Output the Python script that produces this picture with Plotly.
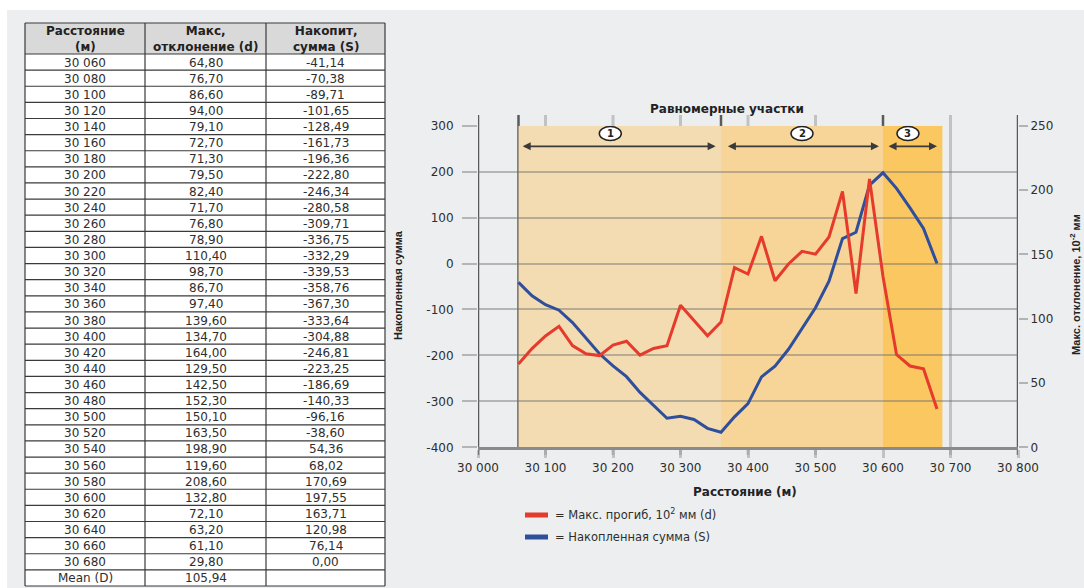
import plotly.graph_objects as go

# ---------------- data ----------------
distance = [30060, 30080, 30100, 30120, 30140, 30160, 30180, 30200, 30220, 30240,
            30260, 30280, 30300, 30320, 30340, 30360, 30380, 30400, 30420, 30440,
            30460, 30480, 30500, 30520, 30540, 30560, 30580, 30600, 30620, 30640,
            30660, 30680]
deflection = [64.80, 76.70, 86.60, 94.00, 79.10, 72.70, 71.30, 79.50, 82.40, 71.70,
              76.80, 78.90, 110.40, 98.70, 86.70, 97.40, 139.60, 134.70, 164.00, 129.50,
              142.50, 152.30, 150.10, 163.50, 198.90, 119.60, 208.60, 132.80, 72.10, 63.20,
              61.10, 29.80]
cumsum = [-41.14, -70.38, -89.71, -101.65, -128.49, -161.73, -196.36, -222.80, -246.34, -280.58,
          -309.71, -336.75, -332.29, -339.53, -358.76, -367.30, -333.64, -304.88, -246.81, -223.25,
          -186.69, -140.33, -96.16, -38.60, 54.36, 68.02, 170.69, 197.55, 163.71, 120.98,
          76.14, 0.00]
mean_d = 105.94

x_ticks = [30000, 30100, 30200, 30300, 30400, 30500, 30600, 30700, 30800]
y_ticks = [-400, -300, -200, -100, 0, 100, 200, 300]
y2_ticks = [0, 50, 100, 150, 200, 250]

zone_bounds = [30060, 30360, 30600, 30688]
zone_labels = ["1", "2", "3"]
zone_label_x = [30196, 30480, 30637]

header_lines = [["Расстояние", "(м)"], ["Макс,", "отклонение (d)"], ["Накопит,", "сумма (S)"]]

# ---------------- helpers ----------------
W, H = 1084, 588
def px(x):
    return x / W
def py(y):
    return (H - y) / H

def fmt_dist(d):
    return f"{d:,}".replace(",", " ")
def fmt_num(v):
    return f"{v:.2f}".replace(".", ",")

FONT = "DejaVu Sans"
TXT = "#2e2e2e"

col1 = [fmt_dist(d) for d in distance] + ["Mean (D)"]
col2 = [fmt_num(v) for v in deflection] + [fmt_num(mean_d)]
col3 = [fmt_num(v) for v in cumsum] + [""]
columns = [col1, col2, col3]

fig = go.Figure()

fig.add_trace(go.Scatter(x=distance, y=cumsum, mode="lines", xaxis="x", yaxis="y",
                         line=dict(color="#2f4e9c", width=3), showlegend=False, hoverinfo="skip"))
fig.add_trace(go.Scatter(x=distance, y=deflection, mode="lines", xaxis="x", yaxis="y2",
                         line=dict(color="#e53a2c", width=3), showlegend=False, hoverinfo="skip"))

shapes = []
annotations = []

def text(x, y, s, size=11.5, color=TXT, family=FONT, xanchor="center", angle=0):
    annotations.append(dict(x=px(x), y=py(y), xref="paper", yref="paper", text=s,
                            xanchor=xanchor, yanchor="middle", align="center", showarrow=False,
                            textangle=angle, font=dict(family=family, size=size, color=color)))

# white strips at the top/left edge of the page
shapes.append(dict(type="rect", xref="paper", yref="paper", x0=0, x1=1, y0=py(10), y1=1,
                   fillcolor="white", line=dict(width=0), layer="above"))
shapes.append(dict(type="rect", xref="paper", yref="paper", x0=0, x1=px(7), y0=0, y1=1,
                   fillcolor="white", line=dict(width=0), layer="above"))

# ---------------- table (shapes + text) ----------------
T_LEFT, T_RIGHT = 25, 385
T_TOP, HEAD_BOTTOM, T_BOTTOM = 23, 54, 586
col_edges = [25, 145, 266, 385]
n_rows = len(col1)
row_h = (T_BOTTOM - HEAD_BOTTOM) / n_rows
shapes.append(dict(type="rect", xref="paper", yref="paper", x0=px(T_LEFT), x1=px(T_RIGHT),
                   y0=py(HEAD_BOTTOM), y1=py(T_TOP), fillcolor="#d9d9d9", line=dict(width=0)))
shapes.append(dict(type="rect", xref="paper", yref="paper", x0=px(T_LEFT), x1=px(T_RIGHT),
                   y0=py(T_BOTTOM), y1=py(HEAD_BOTTOM), fillcolor="white", line=dict(width=0)))
row_lines = [T_TOP, HEAD_BOTTOM] + [HEAD_BOTTOM + row_h * (i + 1) for i in range(n_rows)]
for yl in row_lines:
    shapes.append(dict(type="line", xref="paper", yref="paper", x0=px(T_LEFT), x1=px(T_RIGHT),
                       y0=py(yl), y1=py(yl), line=dict(color="#3a3a3a", width=1.2)))
for xl in col_edges:
    shapes.append(dict(type="line", xref="paper", yref="paper", x0=px(xl), x1=px(xl),
                       y0=py(T_BOTTOM), y1=py(T_TOP), line=dict(color="#3a3a3a", width=1.2)))
for c in range(3):
    cx = (col_edges[c] + col_edges[c + 1]) / 2
    text(cx, (T_TOP + HEAD_BOTTOM) / 2 + 0.5, "<br>".join(f"<b>{t}</b>" for t in header_lines[c]),
         size=12, color="#222222")
    for r in range(n_rows):
        if columns[c][r] == "":
            continue
        text(cx, HEAD_BOTTOM + row_h * (r + 0.5) + 0.5, columns[c][r], size=12)

# ---------------- chart decorations ----------------
zone_colors = ["#f4dcb2", "#f7d598", "#fbc760"]
for i in range(3):
    shapes.append(dict(type="rect", xref="x", yref="y", x0=zone_bounds[i], x1=zone_bounds[i + 1],
                       y0=-400, y1=300, fillcolor=zone_colors[i], line=dict(width=0), layer="below"))
for xv in x_ticks:
    if xv in (30000, 30600, 30800):
        continue
    shapes.append(dict(type="line", xref="x", yref="paper", x0=xv, x1=xv, y0=py(455), y1=py(115),
                       line=dict(color="rgba(140,140,140,0.45)", width=3), layer="below"))
for xv in (30000, 30800):
    shapes.append(dict(type="line", xref="x", yref="paper", x0=xv, x1=xv, y0=py(455), y1=py(115),
                       line=dict(color="#5a5a5a", width=2.5), layer="between"))
for xv in zone_bounds[:3]:
    shapes.append(dict(type="line", xref="x", yref="paper", x0=xv, x1=xv, y0=py(447), y1=py(115),
                       line=dict(color="#5a5a5a", width=2.5), layer="between"))
for cx in zone_label_x:
    shapes.append(dict(type="circle", xref="x", yref="y", xsizemode="pixel", ysizemode="pixel",
                       xanchor=cx, yanchor=283, x0=-11, x1=11, y0=-7, y1=7,
                       fillcolor="white", line=dict(color="#222222", width=1.5), layer="above"))
# legend swatches
shapes.append(dict(type="line", xref="paper", yref="paper", x0=px(525), x1=px(548), y0=py(515), y1=py(515),
                   line=dict(color="#e53a2c", width=5)))
shapes.append(dict(type="line", xref="paper", yref="paper", x0=px(525), x1=px(548), y0=py(537), y1=py(537),
                   line=dict(color="#2f4e9c", width=5)))

arrow_spans = [(30064, 30352), (30368, 30594), (30606, 30680)]
for a0, a1 in arrow_spans:
    annotations.append(dict(x=a1, y=255, ax=a0, ay=255, xref="x", yref="y", axref="x", ayref="y",
                            text="", showarrow=True, arrowhead=2, arrowside="end+start",
                            arrowsize=1, arrowwidth=1.6, arrowcolor="#3a3a3a"))
for cx, lab in zip(zone_label_x, zone_labels):
    annotations.append(dict(x=cx, y=283, xref="x", yref="y", text=f"<b>{lab}</b>", showarrow=False,
                            xanchor="center", yanchor="middle",
                            font=dict(family=FONT, size=10, color="#222222")))

text(727, 109, "<b>Равномерные участки</b>", size=12, color="#222222")
text(745, 492, "<b>Расстояние (м)</b>", size=12, color="#222222")
text(398, 285, "<b>Накопленная сумма</b>", size=11, color="#222222", family="Liberation Sans", angle=-90)
text(1075, 285, "<b>Макс. отклонение, 10<sup>-2</sup> мм</b>", size=11, color="#222222",
     family="Liberation Sans", angle=-90)
text(553, 514, "= Макс. прогиб, 10<sup>2</sup> мм (d)", xanchor="left")
text(553, 537, "= Накопленная сумма (S)", xanchor="left")

fig.update_layout(
    template="none",
    width=W, height=H,
    margin=dict(l=0, r=0, t=0, b=0, pad=0, autoexpand=False),
    paper_bgcolor="#eceef0",
    plot_bgcolor="rgba(0,0,0,0)",
    showlegend=False,
    shapes=shapes,
    annotations=annotations,
    xaxis=dict(domain=[px(478), px(1018)], range=[30000, 30800], tickvals=x_ticks,
               ticktext=[fmt_dist(v) for v in x_ticks], showgrid=False, zeroline=False,
               showline=True, linecolor="#8a8a8a", linewidth=2.5, automargin=False,
               ticks="outside", ticklen=8, tickwidth=3, tickcolor="rgba(150,150,150,0.5)",
               tickfont=dict(family=FONT, size=12, color=TXT), anchor="y"),
    yaxis=dict(domain=[py(447.3), py(125.7)], range=[-400, 300], tickvals=y_ticks,
               ticktext=[str(v) for v in y_ticks], showgrid=True, gridcolor="rgba(110,110,110,0.45)",
               gridwidth=2, zeroline=False, showline=False, ticks="outside", ticklen=15,
               tickwidth=2, tickcolor="rgba(110,110,110,0.45)", automargin=False,
               ticklabelstandoff=6,
               tickfont=dict(family=FONT, size=12, color=TXT), anchor="x"),
    yaxis2=dict(overlaying="y", side="right", range=[0, 250], tickvals=y2_ticks,
                ticktext=[str(v) for v in y2_ticks], showgrid=False, zeroline=False, showline=False,
                ticks="outside", ticklen=9, tickwidth=2, tickcolor="rgba(120,120,120,0.5)",
                automargin=False, tickfont=dict(family=FONT, size=12, color=TXT), anchor="x"),
)

fig.write_html("out.html")
